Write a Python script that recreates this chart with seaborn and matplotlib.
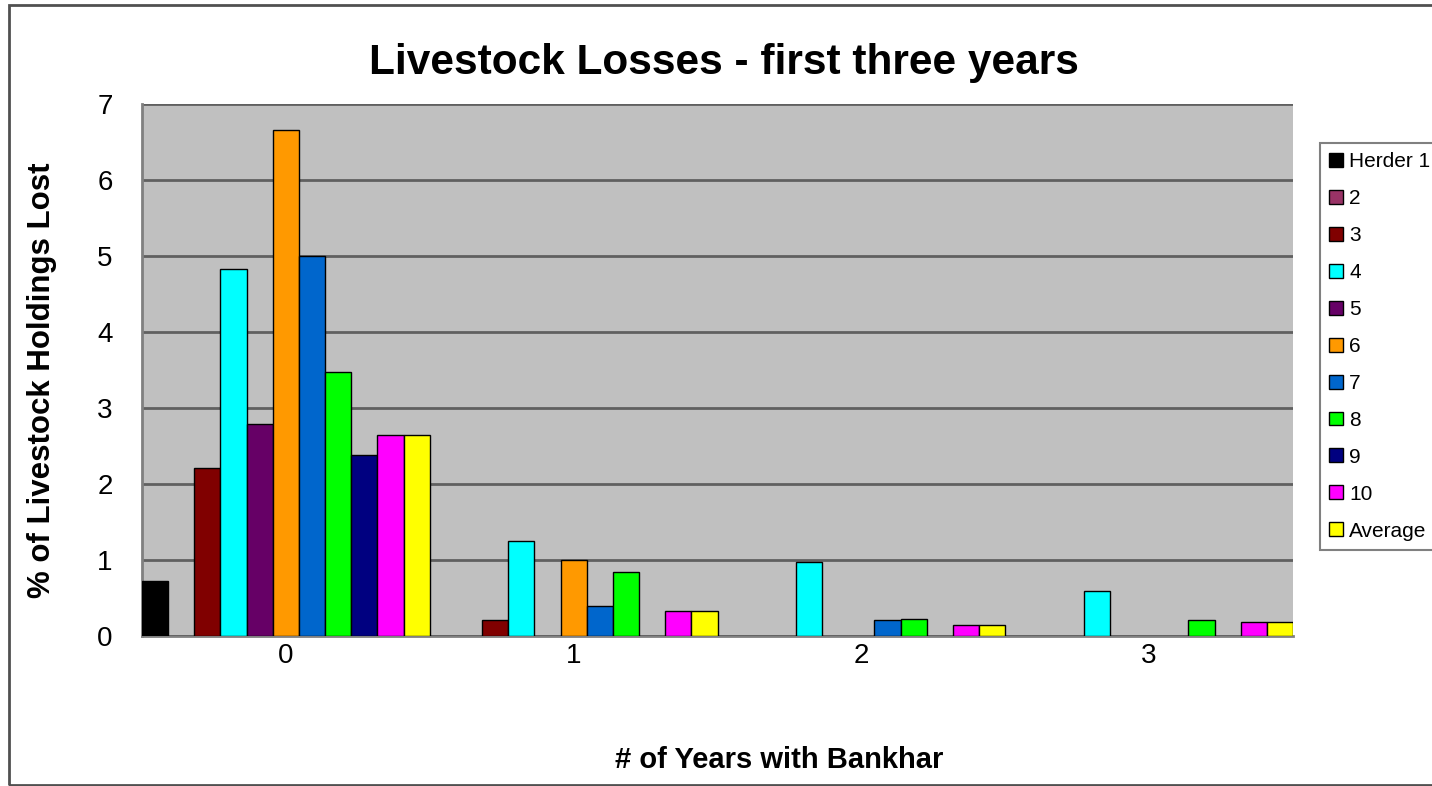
import matplotlib
matplotlib.use("Agg")
import matplotlib.pyplot as plt
from matplotlib.patches import Rectangle
import seaborn as sns
import pandas as pd

# Categories and series
years = ["0", "1", "2", "3"]
herders = ["Herder 1", "2", "3", "4", "5", "6", "7", "8", "9", "10", "Average"]
colors = ["#000000", "#993366", "#800000", "#00FFFF", "#660066", "#FF9900",
          "#0066CC", "#00FF00", "#000080", "#FF00FF", "#FFFF00"]

# % of livestock holdings lost, per herder, for years 0..3
herder_1 = [0.73, 0.0, 0.0, 0.0]
herder_2 = [0.0, 0.0, 0.0, 0.0]
herder_3 = [2.21, 0.21, 0.0, 0.0]
herder_4 = [4.83, 1.25, 0.98, 0.59]
herder_5 = [2.79, 0.0, 0.0, 0.0]
herder_6 = [6.66, 1.0, 0.0, 0.0]
herder_7 = [5.0, 0.39, 0.21, 0.0]
herder_8 = [3.48, 0.84, 0.23, 0.21]
herder_9 = [2.38, 0.0, 0.0, 0.0]
herder_10 = [2.65, 0.33, 0.145, 0.185]
average = [2.65, 0.33, 0.145, 0.185]

series = [herder_1, herder_2, herder_3, herder_4, herder_5, herder_6,
          herder_7, herder_8, herder_9, herder_10, average]

rows = []
for name, vals in zip(herders, series):
    for yr, v in zip(years, vals):
        rows.append({"years": yr, "herder": name, "value": v})
df = pd.DataFrame(rows)

sns.set_style("white")
plt.rcParams["font.family"] = ["Liberation Sans", "DejaVu Sans"]
plt.rcParams["text.color"] = "black"
plt.rcParams["xtick.color"] = "black"
plt.rcParams["ytick.color"] = "black"

fig = plt.figure(figsize=(14.32, 7.86), dpi=100)
ax = fig.add_axes([142 / 1432, 1 - 636 / 786, (1293 - 142) / 1432, (636 - 104) / 786])
ax.set_facecolor("#C0C0C0")

sns.barplot(data=df, x="years", y="value", hue="herder", hue_order=herders,
            order=years, palette=colors, width=1.0, gap=0, dodge=True,
            edgecolor="black", linewidth=1.0, saturation=1, errorbar=None,
            ax=ax, zorder=3)

ax.set_xlim(-0.5, 3.5)
ax.set_ylim(0, 7)
ax.set_yticks(range(0, 8))
ax.yaxis.grid(True, color="#606060", linewidth=2.0, zorder=0)
ax.set_axisbelow(True)

for s in ["top", "right"]:
    ax.spines[s].set_visible(False)
for s in ["left", "bottom"]:
    ax.spines[s].set_color("#808080")
    ax.spines[s].set_linewidth(2.0)

ax.tick_params(axis="y", which="major", length=7, width=2, color="#808080",
               labelsize=20, pad=14, labelcolor="black")
ax.tick_params(axis="x", which="major", length=0, labelsize=20, pad=5,
               labelcolor="black")
ax.set_xticks([-0.5, 0.5, 1.5, 2.5, 3.5], minor=True)
ax.tick_params(axis="x", which="minor", length=9, width=2, color="#808080")

ax.set_xlabel("")
ax.set_ylabel("")
fig.text(42 / 1432, 1 - 380 / 786, "% of Livestock Holdings Lost", rotation=90,
         ha="center", va="center", fontsize=22.5, fontweight="bold", color="black")
fig.text(779 / 1432, 1 - 760 / 786, "# of Years with Bankhar",
         ha="center", va="center", fontsize=21, fontweight="bold", color="black")
fig.text(724 / 1432, 1 - 63 / 786, "Livestock Losses - first three years",
         ha="center", va="center", fontsize=30.5, fontweight="bold", color="black")

# Legend
handles, labels = ax.get_legend_handles_labels()
ax.legend_.remove()
leg = fig.legend(handles, labels, loc="upper left",
                 bbox_to_anchor=(1320 / 1432, 1 - 143 / 786),
                 frameon=True, fancybox=False, fontsize=15,
                 handlelength=0.65, handleheight=0.65, handletextpad=0.3,
                 labelspacing=0.86, borderpad=0.45, borderaxespad=0)
leg.get_frame().set_edgecolor("#606060")
leg.get_frame().set_linewidth(1.5)
for t in leg.get_texts():
    t.set_color("black")

# Chart border
fig.patches.append(Rectangle((9 / 1432, 1 / 786), 1.2, 1 - 6 / 786,
                             transform=fig.transFigure, fill=False,
                             edgecolor="#505050", linewidth=2.0))

fig.savefig("out.png", dpi=100)
